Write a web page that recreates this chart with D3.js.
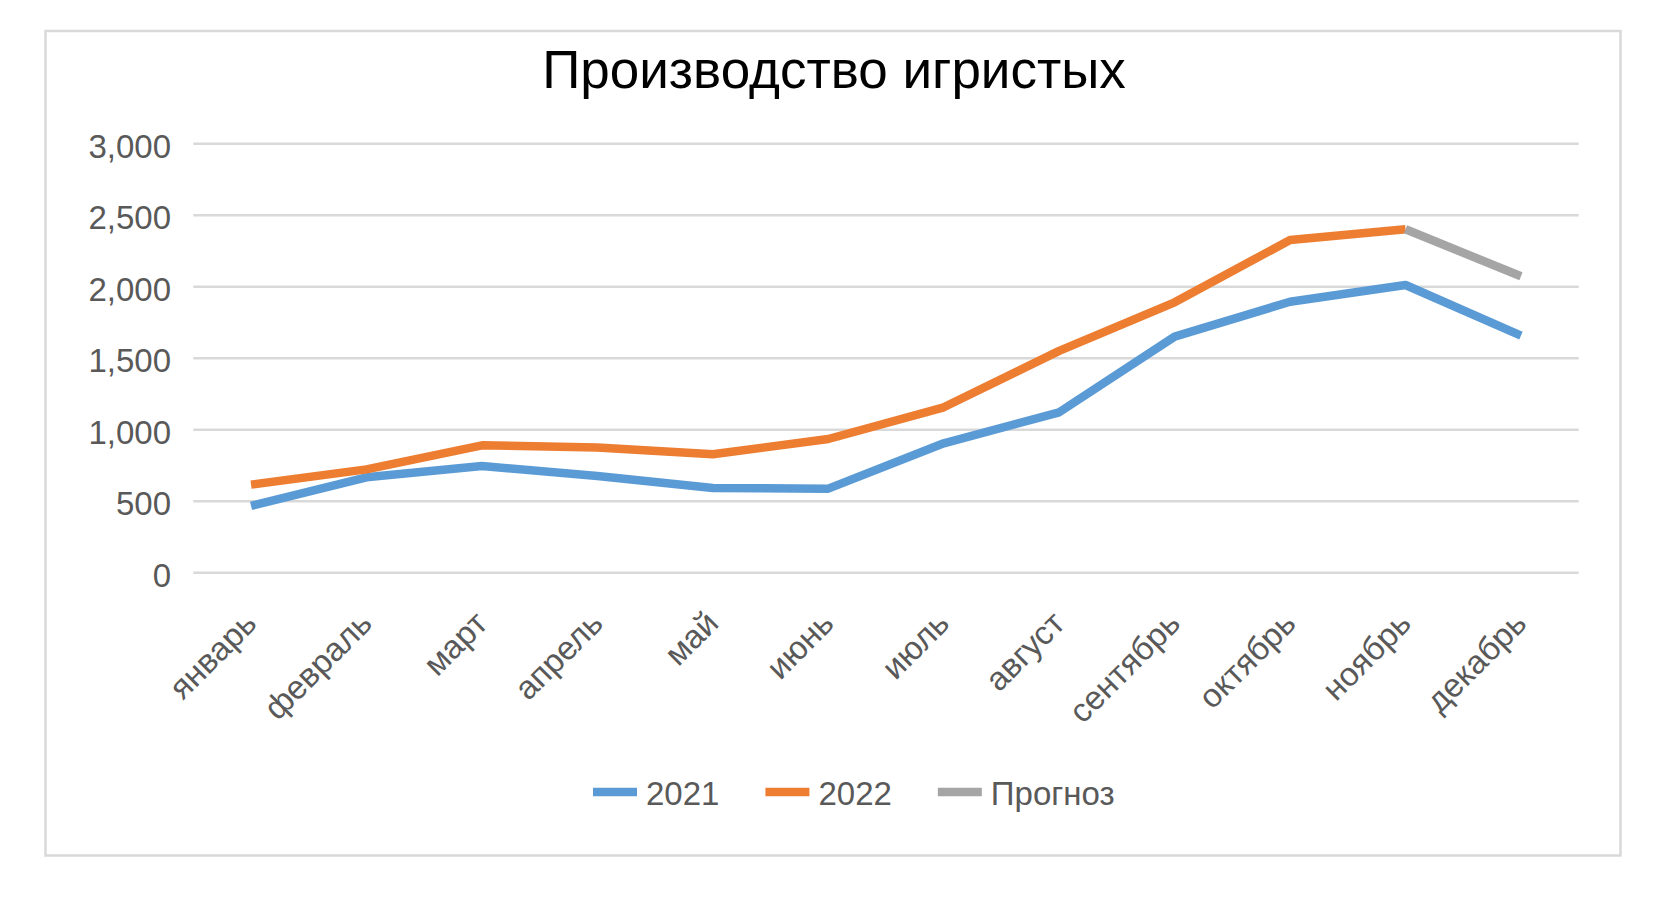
<!DOCTYPE html>
<html>
<head>
<meta charset="utf-8">
<script src="https://cdn.jsdelivr.net/npm/d3@7"></script>
<style>
  html, body { margin: 0; padding: 0; background: #ffffff; }
  svg { display: block; }
  text { font-family: "Liberation Sans", Arial, sans-serif; }
</style>
</head>
<body>
<svg id="chart" width="1669" height="901"></svg>
<script>
// ---- data ----
const title = "Производство игристых";
const months = ["январь", "февраль", "март", "апрель", "май", "июнь", "июль", "август", "сентябрь", "октябрь", "ноябрь", "декабрь"];
const values2021 = [464, 664, 743, 673, 590, 585, 902, 1119, 1648, 1892, 2009, 1655];
const values2022 = [613, 720, 888, 872, 825, 932, 1154, 1548, 1888, 2324, 2399, null];
const valuesForecast = [null, null, null, null, null, null, null, null, null, null, 2399, 2070];
const yTicks = [0, 500, 1000, 1500, 2000, 2500, 3000];
const seriesNames = ["2021", "2022", "Прогноз"];
const seriesColors = ["#5B9BD5", "#ED7D31", "#A5A5A5"];

const series = [values2021, values2022, valuesForecast];

// ---- layout ----
const svg = d3.select("#chart");
const plot = { left: 193.3, right: 1578.7, top: 143.3, bottom: 572.3 };
const textColor = "#595959";
const gridColor = "#d9d9d9";

// outer frame
svg.append("rect")
  .attr("x", 45.5).attr("y", 31).attr("width", 1575).attr("height", 824.5)
  .attr("fill", "#ffffff").attr("stroke", gridColor).attr("stroke-width", 2.5);

// title
svg.append("text")
  .attr("x", 834).attr("y", 88.3)
  .attr("text-anchor", "middle")
  .attr("font-size", 53)
  .attr("fill", "#000000")
  .text(title);

const x = d3.scalePoint().domain(months).range([plot.left, plot.right]).padding(0.5);
const y = d3.scaleLinear().domain([0, 3000]).range([plot.bottom, plot.top]);

// y axis (gridlines + labels)
const yAxis = d3.axisLeft(y)
  .tickValues(yTicks)
  .tickSize(-(plot.right - plot.left))
  .tickFormat(d3.format(","))
  .tickPadding(0);
const yg = svg.append("g")
  .attr("transform", `translate(${plot.left},0)`)
  .call(yAxis);
yg.select(".domain").remove();
yg.selectAll(".tick line").attr("stroke", gridColor).attr("stroke-width", 2.5);
yg.selectAll(".tick text")
  .attr("x", 171 - plot.left)
  .attr("dy", null)
  .attr("y", 14)
  .attr("fill", textColor)
  .attr("font-size", 33)
  .attr("font-family", "'Liberation Sans', Arial, sans-serif")
  .attr("text-anchor", "end");

// x axis labels
const xAxis = d3.axisBottom(x).tickSize(0).tickPadding(0);
const xg = svg.append("g")
  .attr("transform", `translate(0,${plot.bottom})`)
  .call(xAxis);
xg.select(".domain").remove();
xg.selectAll(".tick text")
  .attr("fill", textColor)
  .attr("font-size", 33)
  .attr("font-family", "'Liberation Sans', Arial, sans-serif")
  .attr("text-anchor", "end")
  .attr("dy", null)
  .attr("y", null)
  .attr("transform", "translate(7,53) rotate(-45)");

// lines
const line = d3.line()
  .defined(d => d != null)
  .x((d, i) => x(months[i]))
  .y(d => y(d));

series.forEach((vals, si) => {
  svg.append("path")
    .datum(vals)
    .attr("fill", "none")
    .attr("stroke", seriesColors[si])
    .attr("stroke-width", 8.5)
    .attr("stroke-linejoin", "round")
    .attr("stroke-linecap", "butt")
    .attr("d", line);
});

// legend
const legend = svg.append("g");
let lx = 593;
const ly = 792;
seriesNames.forEach((name, i) => {
  legend.append("line")
    .attr("x1", lx).attr("x2", lx + 44)
    .attr("y1", ly).attr("y2", ly)
    .attr("stroke", seriesColors[i])
    .attr("stroke-width", 8.5);
  const t = legend.append("text")
    .attr("x", lx + 53).attr("y", 805)
    .attr("font-size", 33)
    .attr("fill", textColor)
    .text(name);
  const w = t.node().getComputedTextLength();
  lx = lx + 53 + w + 46;
});
</script>
</body>
</html>
